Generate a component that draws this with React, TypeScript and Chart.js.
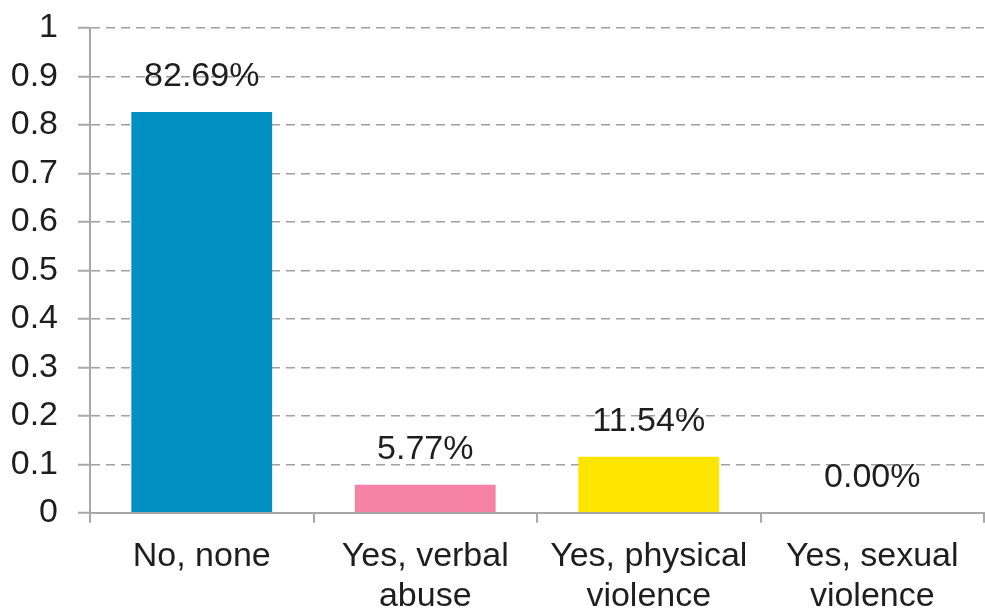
import React, { useEffect, useRef } from "react";
import { Chart, registerables } from "chart.js";

Chart.register(...registerables);

const categories: string[][] = [
  ["No, none"],
  ["Yes, verbal", "abuse"],
  ["Yes, physical", "violence"],
  ["Yes, sexual", "violence"],
];
const values: number[] = [0.8269, 0.0577, 0.1154, 0.0];
const valueLabels: string[] = ["82.69%", "5.77%", "11.54%", "0.00%"];
const barColors: string[] = ["#0091c2", "#f581a7", "#ffe500"];
const yTicks: number[] = [0, 0.1, 0.2, 0.3, 0.4, 0.5, 0.6, 0.7, 0.8, 0.9, 1];

const FONT = "'Liberation Sans', Arial, sans-serif";
const FS = 34;

const labelPlugin = {
  id: "valueLabels",
  afterDatasetsDraw(chart: any) {
    const ctx = chart.ctx;
    const meta = chart.getDatasetMeta(0);
    ctx.save();
    ctx.font = `${FS}px ${FONT}`;
    ctx.fillStyle = "#1e1e1e";
    ctx.textAlign = "center";
    ctx.textBaseline = "alphabetic";
    meta.data.forEach((bar: any, i: number) => {
      ctx.fillText(valueLabels[i], bar.x, bar.y - 26);
    });
    ctx.restore();
  },
};

export default function App() {
  const ref = useRef<HTMLCanvasElement | null>(null);
  useEffect(() => {
    document.body.style.margin = "0";
    document.body.style.overflow = "hidden";
    const canvas = ref.current!;
    const chart = new Chart(canvas, {
      type: "bar",
      data: {
        labels: categories,
        datasets: [
          {
            data: values,
            backgroundColor: [...barColors, "#cccccc"],
            categoryPercentage: 1,
            barPercentage: 0.63,
          },
        ],
      },
      plugins: [labelPlugin],
      options: {
        animation: false,
        responsive: false,
        layout: { padding: { left: 12, right: 1, top: 28, bottom: 2 } },
        plugins: { legend: { display: false }, tooltip: { enabled: false } },
        scales: {
          x: {
            grid: {
              drawOnChartArea: false,
              drawTicks: true,
              tickLength: 10,
              color: "#a8a8a8",
              lineWidth: 2,
              offset: true,
            },
            border: { color: "#a8a8a8", width: 2 },
            ticks: {
              color: "#1e1e1e",
              font: { family: FONT, size: FS, lineHeight: 1.18 },
              padding: 14,
              maxRotation: 0,
              autoSkip: false,
            },
          },
          y: {
            min: 0,
            max: 1,
            afterBuildTicks: (scale: any) => {
              scale.ticks = yTicks.map((v) => ({ value: v }));
            },
            afterFit: (scale: any) => {
              scale.width = 78;
              scale.paddingTop = 0;
              scale.paddingBottom = 0;
            },
            grid: {
              color: "#a0a0a0",
              lineWidth: 1.5,
              tickLength: 12,
              tickColor: "#a8a8a8",
              tickWidth: 2,
            },
            border: { color: "#a8a8a8", width: 2, dash: [9, 6] },
            ticks: {
              color: "#1e1e1e",
              font: { family: FONT, size: FS },
              padding: 20,
              callback: (v: any) => String(Math.round(Number(v) * 10) / 10),
            },
          },
        },
      },
    });
    return () => chart.destroy();
  }, []);
  return (
    <div style={{ width: 985, height: 613, overflow: "hidden" }}>
      <canvas ref={ref} width={985} height={633} style={{ display: "block" }} />
    </div>
  );
}
